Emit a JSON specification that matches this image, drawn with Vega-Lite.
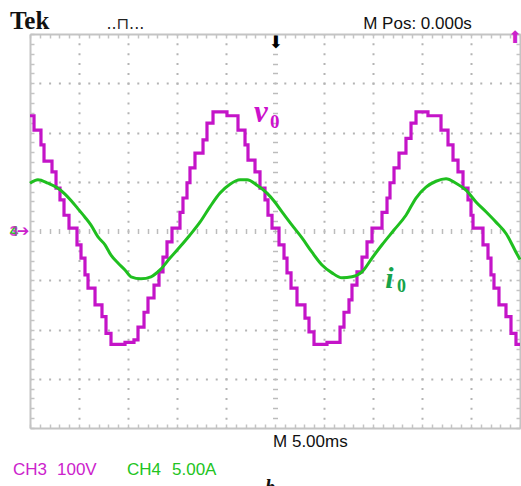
{
  "$schema": "https://vega.github.io/schema/vega-lite/v6.json",
  "width": 490,
  "height": 394,
  "autosize": {"type": "none"},
  "padding": {"left": 30, "top": 34, "right": 1, "bottom": 58},
  "background": "white",
  "config": {
    "view": {"stroke": null},
    "axis": {"title": null, "labels": false, "grid": false}
  },
  "datasets": {
    "ch3": [
      {"t": 0, "v": 2.34}, {"t": 0.082, "v": 2.05}, {"t": 0.224, "v": 1.75}, {"t": 0.286, "v": 1.42},
      {"t": 0.449, "v": 1.2}, {"t": 0.531, "v": 0.87}, {"t": 0.612, "v": 0.63}, {"t": 0.694, "v": 0.32},
      {"t": 0.796, "v": 0.06}, {"t": 0.959, "v": -0.28}, {"t": 1.041, "v": -0.55}, {"t": 1.122, "v": -0.89},
      {"t": 1.184, "v": -1.16}, {"t": 1.327, "v": -1.5}, {"t": 1.469, "v": -1.74}, {"t": 1.551, "v": -2.08},
      {"t": 1.653, "v": -2.3}, {"t": 1.939, "v": -2.26}, {"t": 2.122, "v": -2.21}, {"t": 2.204, "v": -1.95},
      {"t": 2.327, "v": -1.65}, {"t": 2.408, "v": -1.36}, {"t": 2.531, "v": -1.1}, {"t": 2.633, "v": -0.83},
      {"t": 2.714, "v": -0.53}, {"t": 2.796, "v": -0.22}, {"t": 2.898, "v": 0.06}, {"t": 3.061, "v": 0.38},
      {"t": 3.122, "v": 0.67}, {"t": 3.204, "v": 0.98}, {"t": 3.265, "v": 1.28}, {"t": 3.367, "v": 1.58},
      {"t": 3.531, "v": 1.85}, {"t": 3.612, "v": 2.19}, {"t": 3.735, "v": 2.42}, {"t": 4.02, "v": 2.34},
      {"t": 4.245, "v": 2.05}, {"t": 4.388, "v": 1.75}, {"t": 4.449, "v": 1.44}, {"t": 4.592, "v": 1.2},
      {"t": 4.694, "v": 0.87}, {"t": 4.796, "v": 0.63}, {"t": 4.857, "v": 0.32}, {"t": 4.939, "v": 0.06},
      {"t": 5.082, "v": -0.28}, {"t": 5.184, "v": -0.55}, {"t": 5.245, "v": -0.85}, {"t": 5.327, "v": -1.16},
      {"t": 5.449, "v": -1.5}, {"t": 5.612, "v": -1.77}, {"t": 5.694, "v": -2.05}, {"t": 5.796, "v": -2.3},
      {"t": 6.061, "v": -2.26}, {"t": 6.327, "v": -1.95}, {"t": 6.408, "v": -1.65}, {"t": 6.51, "v": -1.4},
      {"t": 6.571, "v": -1.1}, {"t": 6.673, "v": -0.83}, {"t": 6.776, "v": -0.53}, {"t": 6.878, "v": -0.22},
      {"t": 6.98, "v": 0.06}, {"t": 7.184, "v": 0.38}, {"t": 7.286, "v": 0.67}, {"t": 7.347, "v": 0.98},
      {"t": 7.429, "v": 1.28}, {"t": 7.531, "v": 1.58}, {"t": 7.673, "v": 1.88}, {"t": 7.776, "v": 2.19},
      {"t": 7.878, "v": 2.42}, {"t": 8.122, "v": 2.34}, {"t": 8.388, "v": 2.05}, {"t": 8.531, "v": 1.75},
      {"t": 8.633, "v": 1.44}, {"t": 8.735, "v": 1.2}, {"t": 8.837, "v": 0.87}, {"t": 8.939, "v": 0.63},
      {"t": 9.0, "v": 0.32}, {"t": 9.041, "v": 0.06}, {"t": 9.245, "v": -0.28}, {"t": 9.347, "v": -0.55},
      {"t": 9.408, "v": -0.89}, {"t": 9.469, "v": -1.16}, {"t": 9.571, "v": -1.5}, {"t": 9.714, "v": -1.74},
      {"t": 9.816, "v": -2.08}, {"t": 9.918, "v": -2.3}, {"t": 10, "v": -2.3}
    ],
    "ch4": [
      {"t": 0, "i": 0.97}, {"t": 0.163, "i": 1.04}, {"t": 0.367, "i": 0.97}, {"t": 0.571, "i": 0.87},
      {"t": 0.714, "i": 0.75}, {"t": 0.837, "i": 0.62}, {"t": 0.98, "i": 0.45}, {"t": 1.122, "i": 0.28},
      {"t": 1.245, "i": 0.12}, {"t": 1.388, "i": -0.12}, {"t": 1.531, "i": -0.28}, {"t": 1.653, "i": -0.49},
      {"t": 1.796, "i": -0.65}, {"t": 1.939, "i": -0.79}, {"t": 2.061, "i": -0.93}, {"t": 2.265, "i": -0.97},
      {"t": 2.469, "i": -0.93}, {"t": 2.653, "i": -0.79}, {"t": 2.857, "i": -0.55}, {"t": 3.061, "i": -0.32},
      {"t": 3.265, "i": -0.08}, {"t": 3.469, "i": 0.18}, {"t": 3.673, "i": 0.49}, {"t": 3.878, "i": 0.77},
      {"t": 4.082, "i": 0.95}, {"t": 4.286, "i": 1.04}, {"t": 4.429, "i": 1.04}, {"t": 4.633, "i": 0.93},
      {"t": 4.837, "i": 0.77}, {"t": 4.98, "i": 0.61}, {"t": 5.143, "i": 0.39}, {"t": 5.347, "i": 0.12},
      {"t": 5.551, "i": -0.14}, {"t": 5.755, "i": -0.43}, {"t": 5.959, "i": -0.69}, {"t": 6.163, "i": -0.85},
      {"t": 6.367, "i": -0.95}, {"t": 6.571, "i": -0.93}, {"t": 6.776, "i": -0.83}, {"t": 6.98, "i": -0.55},
      {"t": 7.184, "i": -0.28}, {"t": 7.429, "i": 0.02}, {"t": 7.673, "i": 0.32}, {"t": 7.878, "i": 0.67},
      {"t": 8.082, "i": 0.89}, {"t": 8.286, "i": 1.01}, {"t": 8.49, "i": 1.06}, {"t": 8.694, "i": 0.97},
      {"t": 8.898, "i": 0.83}, {"t": 9.102, "i": 0.59}, {"t": 9.306, "i": 0.39}, {"t": 9.51, "i": 0.18},
      {"t": 9.714, "i": -0.05}, {"t": 9.918, "i": -0.43}, {"t": 10, "i": -0.58}
    ]
  },
  "resolve": {"axis": {"x": "independent", "y": "independent"}},
  "layer": [
    {
      "data": {"name": "ch4"},
      "mark": {"type": "line", "opacity": 0},
      "encoding": {
        "x": {"field": "t", "type": "quantitative", "scale": {"domain": [0, 10], "nice": false, "zero": false},
          "axis": {"orient": "bottom", "values": [1, 2, 3, 4, 6, 7, 8, 9], "grid": true, "gridDash": [2, 7.85], "gridDashOffset": 1, "gridColor": "#b4b4b4", "gridWidth": 2, "ticks": false, "domain": false, "labels": false}},
        "y": {"field": "i", "type": "quantitative", "scale": {"domain": [-4, 4], "nice": false, "zero": false},
          "axis": {"orient": "left", "values": [-3, -2, -1, 1, 2, 3], "grid": true, "gridDash": [2, 7.8], "gridDashOffset": 1, "gridColor": "#b4b4b4", "gridWidth": 2, "ticks": false, "domain": false, "labels": false}}
      }
    },
    {
      "data": {"name": "ch4"},
      "mark": {"type": "line", "opacity": 0},
      "encoding": {
        "x": {"field": "t", "type": "quantitative",
          "axis": {"orient": "top", "values": [0,0.2,0.4,0.6,0.8,1,1.2,1.4,1.6,1.8,2,2.2,2.4,2.6,2.8,3,3.2,3.4,3.6,3.8,4,4.2,4.4,4.6,4.8,5,5.2,5.4,5.6,5.8,6,6.2,6.4,6.6,6.8,7,7.2,7.4,7.6,7.8,8,8.2,8.4,8.6,8.8,9,9.2,9.4,9.6,9.8,10], "tickSize": -4, "tickColor": "#c4c4c4", "tickWidth": 1.5, "domainColor": "#c4c4c4", "domainWidth": 2, "labels": false}},
        "y": {"field": "i", "type": "quantitative",
          "axis": {"orient": "left", "values": [-4,-3.8,-3.6,-3.4,-3.2,-3,-2.8,-2.6,-2.4,-2.2,-2,-1.8,-1.6,-1.4,-1.2,-1,-0.8,-0.6,-0.4,-0.2,0,0.2,0.4,0.6,0.8,1,1.2,1.4,1.6,1.8,2,2.2,2.4,2.6,2.8,3,3.2,3.4,3.6,3.8,4], "tickSize": -4, "tickColor": "#c4c4c4", "tickWidth": 1.5, "domainColor": "#c4c4c4", "domainWidth": 2, "labels": false}}
      }
    },
    {
      "data": {"name": "ch4"},
      "mark": {"type": "line", "opacity": 0},
      "encoding": {
        "x": {"field": "t", "type": "quantitative",
          "axis": {"orient": "bottom", "values": [0,0.2,0.4,0.6,0.8,1,1.2,1.4,1.6,1.8,2,2.2,2.4,2.6,2.8,3,3.2,3.4,3.6,3.8,4,4.2,4.4,4.6,4.8,5,5.2,5.4,5.6,5.8,6,6.2,6.4,6.6,6.8,7,7.2,7.4,7.6,7.8,8,8.2,8.4,8.6,8.8,9,9.2,9.4,9.6,9.8,10], "tickSize": -4, "tickColor": "#c4c4c4", "tickWidth": 1.5, "domainColor": "#c4c4c4", "domainWidth": 2, "labels": false}},
        "y": {"field": "i", "type": "quantitative",
          "axis": {"orient": "right", "values": [-4,-3.8,-3.6,-3.4,-3.2,-3,-2.8,-2.6,-2.4,-2.2,-2,-1.8,-1.6,-1.4,-1.2,-1,-0.8,-0.6,-0.4,-0.2,0,0.2,0.4,0.6,0.8,1,1.2,1.4,1.6,1.8,2,2.2,2.4,2.6,2.8,3,3.2,3.4,3.6,3.8,4], "tickSize": -4, "tickColor": "#c4c4c4", "tickWidth": 1.5, "domainColor": "#c4c4c4", "domainWidth": 2, "labels": false}}
      }
    },
    {
      "data": {"name": "ch4"},
      "mark": {"type": "line", "opacity": 0},
      "encoding": {
        "x": {"field": "t", "type": "quantitative",
          "axis": {"orient": "bottom", "offset": -199.5, "values": [0.2,0.4,0.6,0.8,1,1.2,1.4,1.6,1.8,2,2.2,2.4,2.6,2.8,3,3.2,3.4,3.6,3.8,4,4.2,4.4,4.6,4.8,5,5.2,5.4,5.6,5.8,6,6.2,6.4,6.6,6.8,7,7.2,7.4,7.6,7.8,8,8.2,8.4,8.6,8.8,9,9.2,9.4,9.6,9.8], "tickSize": 5, "tickColor": "#bcbcbc", "tickWidth": 1.5, "domain": false, "labels": false}},
        "y": {"field": "i", "type": "quantitative",
          "axis": {"orient": "left", "offset": -247.5, "values": [-3.8,-3.6,-3.4,-3.2,-3,-2.8,-2.6,-2.4,-2.2,-2,-1.8,-1.6,-1.4,-1.2,-1,-0.8,-0.6,-0.4,-0.2,0,0.2,0.4,0.6,0.8,1,1.2,1.4,1.6,1.8,2,2.2,2.4,2.6,2.8,3,3.2,3.4,3.6,3.8], "tickSize": 5, "tickColor": "#bcbcbc", "tickWidth": 1.5, "domain": false, "labels": false}}
      }
    },
    {
      "data": {"name": "ch3"},
      "mark": {"type": "line", "interpolate": "step-after", "color": "#c414c8", "strokeWidth": 3.2},
      "encoding": {
        "x": {"field": "t", "type": "quantitative", "axis": null},
        "y": {"field": "v", "type": "quantitative", "axis": null}
      }
    },
    {
      "data": {"name": "ch4"},
      "mark": {"type": "line", "interpolate": "monotone", "color": "#1fbf1f", "strokeWidth": 3},
      "encoding": {
        "x": {"field": "t", "type": "quantitative", "axis": null},
        "y": {"field": "i", "type": "quantitative", "axis": null}
      }
    },
    {
      "data": {"values": [{"label": "Tek"}]},
      "mark": {"type": "text", "align": "left", "baseline": "alphabetic", "font": "Liberation Serif", "fontWeight": "bold", "fontSize": 25, "color": "#111111"},
      "encoding": {"x": {"datum": -0.41, "type": "quantitative", "axis": null}, "y": {"datum": 4.1, "type": "quantitative", "axis": null}, "text": {"field": "label"}}
    },
    {
      "data": {"values": [{"label": "..⊓..."}]},
      "mark": {"type": "text", "align": "left", "baseline": "alphabetic", "font": "DejaVu Sans", "fontSize": 16, "color": "#222222"},
      "encoding": {"x": {"datum": 1.56, "type": "quantitative", "axis": null}, "y": {"datum": 4.1, "type": "quantitative", "axis": null}, "text": {"field": "label"}}
    },
    {
      "data": {"values": [{"label": "M Pos: 0.000s"}]},
      "mark": {"type": "text", "align": "left", "baseline": "alphabetic", "font": "Liberation Sans", "fontSize": 17, "color": "#111111"},
      "encoding": {"x": {"datum": 6.8, "type": "quantitative", "axis": null}, "y": {"datum": 4.1, "type": "quantitative", "axis": null}, "text": {"field": "label"}}
    },
    {
      "data": {"values": [{"label": "M 5.00ms"}]},
      "mark": {"type": "text", "align": "left", "baseline": "alphabetic", "font": "Liberation Sans", "fontSize": 17, "color": "#111111"},
      "encoding": {"x": {"datum": 4.96, "type": "quantitative", "axis": null}, "y": {"datum": -4.386, "type": "quantitative", "axis": null}, "text": {"field": "label"}}
    },
    {
      "data": {"values": [{"label": "CH3"}]},
      "mark": {"type": "text", "align": "left", "baseline": "alphabetic", "font": "Liberation Sans", "fontSize": 17, "color": "#cc22cc"},
      "encoding": {"x": {"datum": -0.347, "type": "quantitative", "axis": null}, "y": {"datum": -4.954, "type": "quantitative", "axis": null}, "text": {"field": "label"}}
    },
    {
      "data": {"values": [{"label": "100V"}]},
      "mark": {"type": "text", "align": "left", "baseline": "alphabetic", "font": "Liberation Sans", "fontSize": 17, "color": "#cc22cc"},
      "encoding": {"x": {"datum": 0.551, "type": "quantitative", "axis": null}, "y": {"datum": -4.954, "type": "quantitative", "axis": null}, "text": {"field": "label"}}
    },
    {
      "data": {"values": [{"label": "CH4"}]},
      "mark": {"type": "text", "align": "left", "baseline": "alphabetic", "font": "Liberation Sans", "fontSize": 17, "color": "#22c422"},
      "encoding": {"x": {"datum": 1.98, "type": "quantitative", "axis": null}, "y": {"datum": -4.954, "type": "quantitative", "axis": null}, "text": {"field": "label"}}
    },
    {
      "data": {"values": [{"label": "5.00A"}]},
      "mark": {"type": "text", "align": "left", "baseline": "alphabetic", "font": "Liberation Sans", "fontSize": 17, "color": "#22c422"},
      "encoding": {"x": {"datum": 2.898, "type": "quantitative", "axis": null}, "y": {"datum": -4.954, "type": "quantitative", "axis": null}, "text": {"field": "label"}}
    },
    {
      "data": {"values": [{"label": "b"}]},
      "mark": {"type": "text", "align": "left", "baseline": "alphabetic", "font": "Liberation Serif", "fontStyle": "italic", "fontWeight": "bold", "fontSize": 20, "color": "#111111"},
      "encoding": {"x": {"datum": 4.8, "type": "quantitative", "axis": null}, "y": {"datum": -5.34, "type": "quantitative", "axis": null}, "text": {"field": "label"}}
    },
    {
      "data": {"values": [{"label": "v"}]},
      "mark": {"type": "text", "align": "left", "baseline": "alphabetic", "font": "Liberation Serif", "fontStyle": "italic", "fontWeight": "bold", "fontSize": 31, "color": "#cc11cc"},
      "encoding": {"x": {"datum": 4.57, "type": "quantitative", "axis": null}, "y": {"datum": 2.21, "type": "quantitative", "axis": null}, "text": {"field": "label"}}
    },
    {
      "data": {"values": [{"label": "0"}]},
      "mark": {"type": "text", "align": "left", "baseline": "alphabetic", "font": "Liberation Serif", "fontWeight": "bold", "fontSize": 19, "color": "#cc11cc"},
      "encoding": {"x": {"datum": 4.9, "type": "quantitative", "axis": null}, "y": {"datum": 2.09, "type": "quantitative", "axis": null}, "text": {"field": "label"}}
    },
    {
      "data": {"values": [{"label": "i"}]},
      "mark": {"type": "text", "align": "left", "baseline": "alphabetic", "font": "Liberation Serif", "fontStyle": "italic", "fontWeight": "bold", "fontSize": 30, "color": "#17a34a"},
      "encoding": {"x": {"datum": 7.25, "type": "quantitative", "axis": null}, "y": {"datum": -1.157, "type": "quantitative", "axis": null}, "text": {"field": "label"}}
    },
    {
      "data": {"values": [{"label": "0"}]},
      "mark": {"type": "text", "align": "left", "baseline": "alphabetic", "font": "Liberation Serif", "fontWeight": "bold", "fontSize": 18, "color": "#17a34a"},
      "encoding": {"x": {"datum": 7.49, "type": "quantitative", "axis": null}, "y": {"datum": -1.239, "type": "quantitative", "axis": null}, "text": {"field": "label"}}
    },
    {
      "data": {"values": [{"label": "4"}]},
      "mark": {"type": "text", "align": "center", "baseline": "middle", "font": "Liberation Sans", "fontWeight": "bold", "fontSize": 15, "color": "#22c422"},
      "encoding": {"x": {"datum": -0.33, "type": "quantitative", "axis": null}, "y": {"datum": 0.0, "type": "quantitative", "axis": null}, "text": {"field": "label"}}
    },
    {
      "data": {"values": [{"label": "3"}]},
      "mark": {"type": "text", "align": "center", "baseline": "middle", "font": "Liberation Sans", "fontWeight": "bold", "fontSize": 15, "color": "#cc22cc", "opacity": 0.8},
      "encoding": {"x": {"datum": -0.33, "type": "quantitative", "axis": null}, "y": {"datum": 0.0, "type": "quantitative", "axis": null}, "text": {"field": "label"}}
    },
    {
      "data": {"values": [{"label": "➔"}]},
      "mark": {"type": "text", "align": "center", "baseline": "middle", "font": "DejaVu Sans", "fontSize": 15, "fontWeight": "bold", "color": "#cc22cc"},
      "encoding": {"x": {"datum": -0.14, "type": "quantitative", "axis": null}, "y": {"datum": 0.0, "type": "quantitative", "axis": null}, "text": {"field": "label"}}
    },
    {
      "data": {"values": [{"label": "⬇"}]},
      "mark": {"type": "text", "align": "center", "baseline": "middle", "font": "DejaVu Sans", "fontSize": 17, "color": "#000000"},
      "encoding": {"x": {"datum": 5.02, "type": "quantitative", "axis": null}, "y": {"datum": 3.82, "type": "quantitative", "axis": null}, "text": {"field": "label"}}
    },
    {
      "data": {"values": [{"label": "⬆"}]},
      "mark": {"type": "text", "align": "center", "baseline": "middle", "font": "DejaVu Sans", "fontSize": 17, "color": "#cc22cc"},
      "encoding": {"x": {"datum": 9.9, "type": "quantitative", "axis": null}, "y": {"datum": 3.92, "type": "quantitative", "axis": null}, "text": {"field": "label"}}
    }
  ]
}
